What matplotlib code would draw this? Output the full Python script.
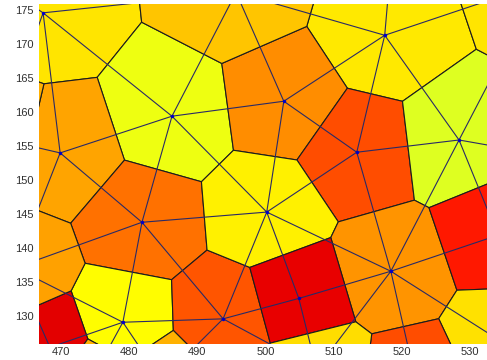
import numpy as np
import matplotlib
matplotlib.use("Agg")
import matplotlib.pyplot as plt
import matplotlib.tri as mtri
from matplotlib.patches import Polygon
from matplotlib.colors import LinearSegmentedColormap

# -- generator sites (x, y) and the value that colours each cell
site_x = [467.4, 486.3, 469.9, 517.5, 502.7, 513.4, 528.4, 481.9, 479.1,
          493.8, 500.2, 518.4, 504.9,
          495.7, 518.5, 540.4, 534.1, 541.4, 534.7, 522.1, 507.5, 468.4,
          463.3, 474.7, 484.8, 460.9, 455.0]
site_y = [174.6, 159.4, 154.0, 171.3, 161.6, 154.1, 155.9, 143.8, 129.1,
          129.6, 145.3, 136.6, 132.6,
          177.6, 182.9, 179.0, 141.9, 153.6, 126.2, 120.3, 122.2, 125.4,
          137.1, 121.0, 120.6, 156.1, 183.0]
cell_val = [0.652, 0.608, 0.713, 0.645, 0.738, 0.797, 0.593, 0.762, 0.625,
            0.792, 0.640, 0.728, 0.898,
            0.680, 0.660, 0.650, 0.850, 0.620, 0.655, 0.797, 0.660, 0.900,
            0.718, 0.700, 0.700, 0.700, 0.700]

x_ticks = [470, 480, 490, 500, 510, 520, 530]
y_ticks = [130, 135, 140, 145, 150, 155, 160, 165, 170, 175]

xlim = (466.8, 532.5)
ylim = (125.9, 175.9)

# classic jet: dark blue - blue - cyan - yellow - red - dark red
jet = LinearSegmentedColormap.from_list("jet8", [
    (0.0, (0, 0, 0.5)), (0.125, (0, 0, 1)), (0.375, (0, 1, 1)),
    (0.625, (1, 1, 0)), (0.875, (1, 0, 0)), (1.0, (0.5, 0, 0))])


def clip_half(poly, n, c):
    # keep the part of poly where p . n <= c
    out = []
    m = len(poly)
    for k in range(m):
        p, q = poly[k], poly[(k + 1) % m]
        fp, fq = p @ n - c, q @ n - c
        if fp <= 0:
            out.append(p)
        if fp * fq < 0:
            t = fp / (fp - fq)
            out.append(p + t * (q - p))
    return np.array(out)


pts = np.column_stack([site_x, site_y])
box = np.array([[400.0, 60.0], [600.0, 60.0], [600.0, 240.0], [400.0, 240.0]])

cells = []
for i, pi in enumerate(pts):
    poly = box.copy()
    for j, pj in enumerate(pts):
        if i == j:
            continue
        n = pj - pi
        c = n @ (0.5 * (pi + pj))
        poly = clip_half(poly, n, c)
    cells.append(poly)

plt.close("all")
fig = plt.figure(figsize=(4.87, 3.6), dpi=100)
ax = fig.add_axes([39 / 487, 16 / 360, 448 / 487, 340 / 360])

for poly, v in zip(cells, cell_val):
    ax.add_patch(Polygon(poly, closed=True, facecolor=jet(v),
                         edgecolor="#1c1c1c", lw=0.8, zorder=1))

tri = mtri.Triangulation(pts[:, 0], pts[:, 1])
ax.triplot(tri, color="#2a2a66", lw=0.8, zorder=2)
ax.plot(pts[:, 0], pts[:, 1], "o", color="#0000c8", ms=2.5, mew=0, zorder=3)

ax.set_xlim(*xlim)
ax.set_ylim(*ylim)
ax.set_xticks(x_ticks)
ax.set_yticks(y_ticks)
for s in ax.spines.values():
    s.set_visible(False)
ax.tick_params(length=0, labelsize=8, labelcolor="#303030")
ax.tick_params(axis="x", pad=2.5)
ax.tick_params(axis="y", pad=4)
for lab in ax.get_xticklabels() + ax.get_yticklabels():
    lab.set_family(["Liberation Sans", "DejaVu Sans"])

fig.savefig("out.png", dpi=100)
